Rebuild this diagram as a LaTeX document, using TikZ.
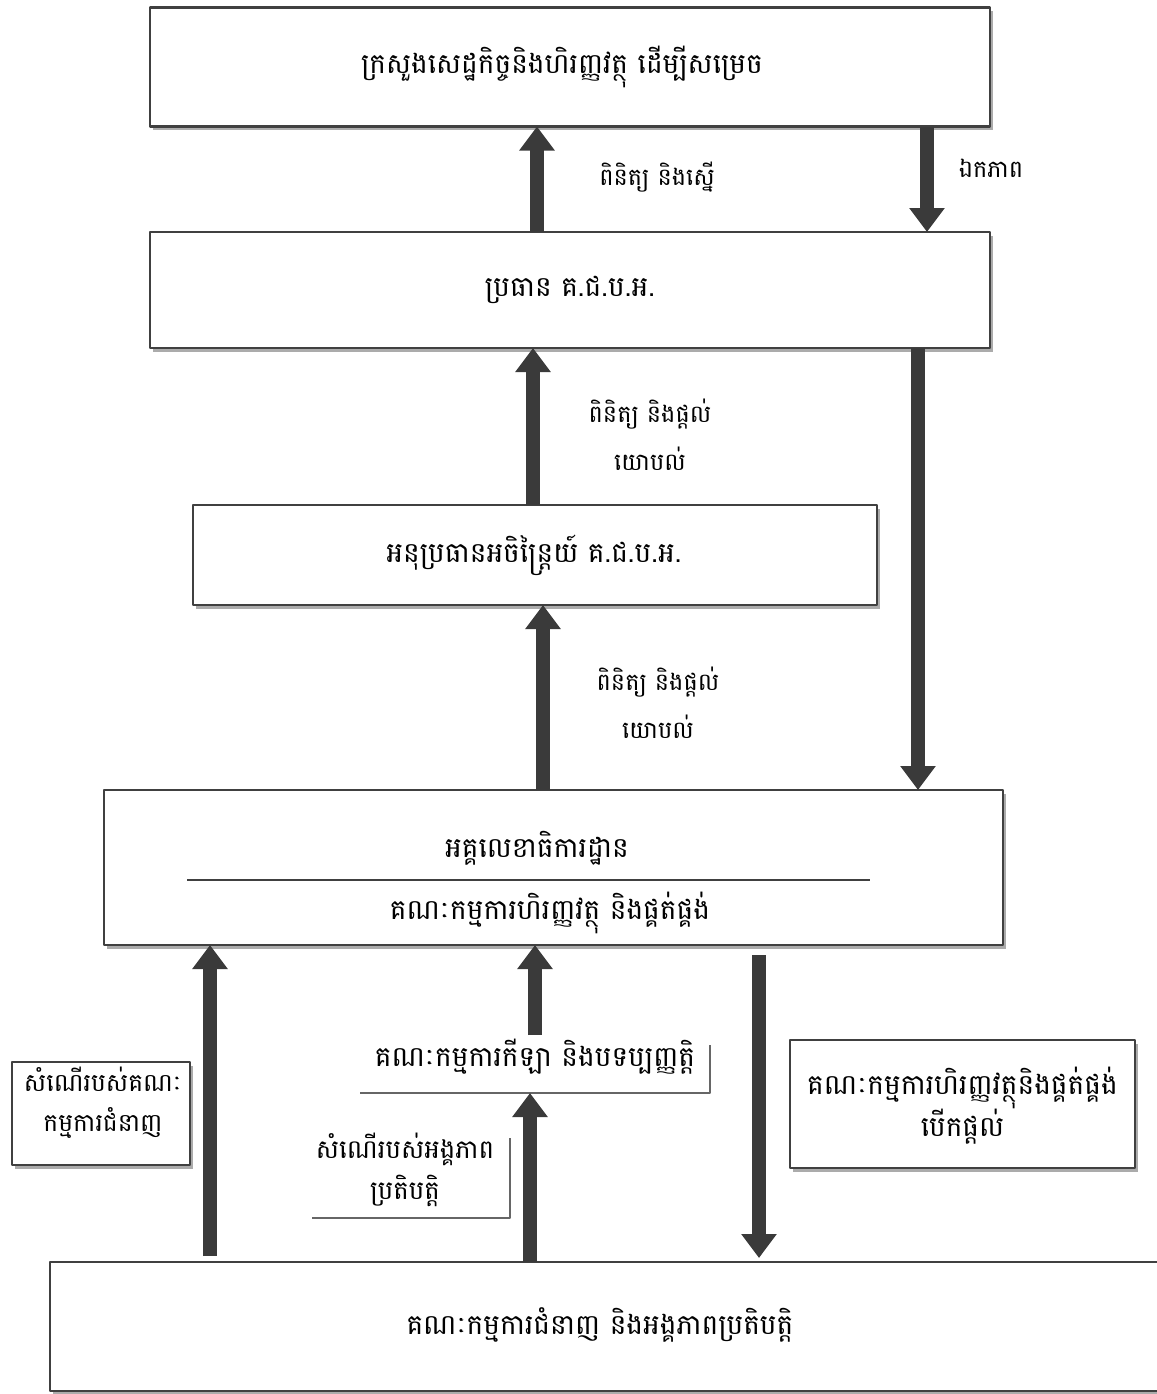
\documentclass[tikz,border=0pt]{standalone}
\usepackage{fontspec}
\setmainfont{Battambang}[Script=Khmer]
\usetikzlibrary{arrows.meta,shadows}
\definecolor{flowgray}{HTML}{3A3A3A}
\definecolor{edgegray}{HTML}{404040}
\begin{document}
\begin{tikzpicture}[x=0.5pt,y=-0.5pt,line join=bevel,
  box/.style={draw=edgegray,line width=1.3pt,fill=white,inner sep=0pt,outer sep=0pt,
    drop shadow={shadow xshift=1.5pt,shadow yshift=-1.8pt,fill=black!55,opacity=.6}},
  halfbox/.style={inner sep=0pt,outer sep=0pt},
  halfedge/.style={draw=edgegray!80,line width=1.3pt},
  txt/.style={align=center,inner sep=0pt,font=\fontsize{14}{21}\selectfont},
  lbl/.style={align=center,inner sep=0pt,font=\fontsize{12}{24}\selectfont},
  flow/.style={draw=flowgray,line width=7pt,-{Triangle[width=17pt,length=12pt]}},
]
\useasboundingbox (0,0) rectangle (1157,1394);

 \node (node_0) at (570,67) [box,minimum width=420pt,minimum height=59.5pt] {};
 \node (node_1) at (570,290) [box,minimum width=420pt,minimum height=58pt] {};
 \node (node_2) at (535,555) [box,minimum width=342pt,minimum height=50pt] {};
 \node (node_3) at (553.5,867.5) [box,minimum width=449.5pt,minimum height=77.5pt] {};
 \node (node_4) at (101,1113.5) [box,minimum width=89pt,minimum height=51.5pt] {};
 \node (node_5) at (535,1064) [halfbox,minimum width=175pt,minimum height=29pt] {};
 \node (node_6) at (411,1174) [halfbox,minimum width=99pt,minimum height=44pt] {};
 \node (node_7) at (962.5,1104) [box,minimum width=172.5pt,minimum height=64pt] {};
 \node (node_8) at (610,1326.5) [box,minimum width=560pt,minimum height=64.5pt] {};

 % texts of the boxes
 \node (text_0) at (562,67) [txt] {ក្រសួងសេដ្ឋកិច្ចនិងហិរញ្ញវត្ថុ ដើម្បីសម្រេច};
 \node (text_1) at (570,290) [txt] {ប្រធាន គ.ជ.ប.អ.};
 \node (text_2) at (534,555) [txt] {អនុប្រធានអចិន្ត្រៃយ៍ គ.ជ.ប.អ.};
 \node (text_3a) at (537,848) [txt] {អគ្គលេខាធិការដ្ឋាន};
 \node (text_3b) at (550,913) [txt] {គណៈកម្មការហិរញ្ញវត្ថុ និងផ្គត់ផ្គង់};
 \node (text_4) at (103,1103) [txt,font=\fontsize{12.5}{20}\selectfont] {សំណើរបស់គណៈ\\កម្មការជំនាញ};
 \node (text_5) at (535,1057) [txt] {គណៈកម្មការកីឡា និងបទប្បញ្ញត្តិ};
 \node (text_6) at (405,1170) [txt,font=\fontsize{13}{20.5}\selectfont] {សំណើរបស់អង្គភាព\\ប្រតិបត្តិ};
 \node (text_7) at (962.5,1106) [txt] {គណៈកម្មការហិរញ្ញវត្ថុនិងផ្គត់ផ្គង់\\បើកផ្តល់};
 \node (text_8) at (600,1325) [txt] {គណៈកម្មការជំនាញ និងអង្គភាពប្រតិបត្តិ};

 \draw [edgegray,line width=0.8pt] (187,880) -- (870,880);
 \draw [halfedge] ([yshift=-5pt]node_5.north east) -- (node_5.south east) -- (node_5.south west);
 \draw [halfedge] ([yshift=-4pt]node_6.north east) -- (node_6.south east) -- (node_6.south west);

 % labels
 \node (lbl_0) at (657,177) [lbl] {ពិនិត្យ និងស្នើ};
 \node (lbl_1) at (991,168) [lbl] {ឯកភាព};
 \node (lbl_2) at (650,435) [lbl] {ពិនិត្យ និងផ្តល់\\យោបល់};
 \node (lbl_3) at (658,703) [lbl] {ពិនិត្យ និងផ្តល់\\យោបល់};

 \coordinate (c_0) at (537,0);
 \coordinate (c_1) at (927,0);
 \coordinate (c_2) at (533,0);
 \coordinate (c_3) at (918,0);
 \coordinate (c_4) at (543,0);
 \coordinate (c_5) at (210,0);
 \coordinate (c_6) at (535,0);
 \coordinate (c_7) at (530,0);
 \coordinate (c_8) at (759,0);

  \draw [flow] (node_1.north -| c_0) -- (node_0.south -| c_0);
  \draw [flow] (node_0.south -| c_1) -- (node_1.north -| c_1);
  \draw [flow] (node_2.north -| c_2) -- (node_1.south -| c_2);
  \draw [flow] (node_1.south -| c_3) -- (node_3.north -| c_3);
  \draw [flow] (node_3.north -| c_4) -- (node_2.south -| c_4);
  \draw [flow] ([yshift=3pt]node_8.north -| c_5) -- (node_3.south -| c_5);
  \draw [flow] (node_5.north -| c_6) -- (node_3.south -| c_6);
  \draw [flow] (node_8.north -| c_7) -- (node_5.south -| c_7);
  \draw [flow] ([yshift=-5pt]node_3.south -| c_8) -- ([yshift=2pt]node_8.north -| c_8);

\end{tikzpicture}
\end{document}
